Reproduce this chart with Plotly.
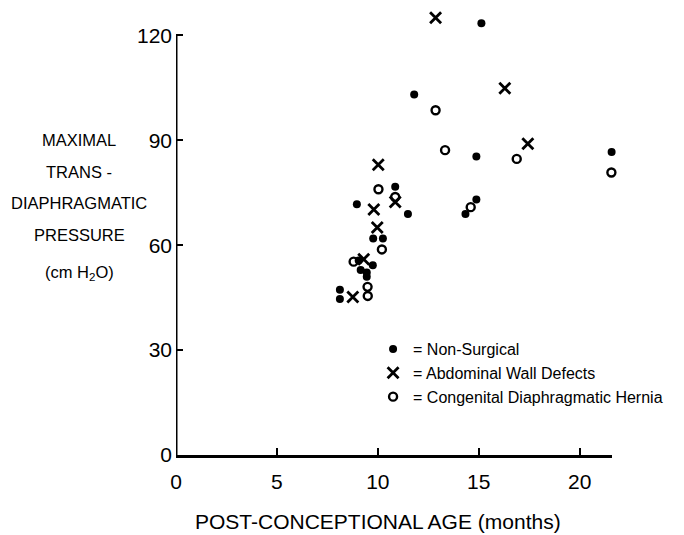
import plotly.graph_objects as go

# Data (post-conceptional age in months, pressure in cm H2O)
nonsurg_x = [15.13, 11.8, 14.88, 21.58, 10.86, 8.96, 11.49, 14.88, 14.34, 9.77, 10.25,
             9.05, 9.75, 9.15, 9.45, 9.45, 8.12, 8.12]
nonsurg_y = [123.5, 103.1, 85.4, 86.7, 76.7, 71.7, 68.9, 73.1, 68.9, 61.9, 61.9,
             55.6, 54.3, 52.9, 52.2, 51.0, 47.3, 44.6]

awd_x = [12.86, 16.29, 17.43, 10.02, 10.86, 9.80, 9.97, 9.3, 8.76]
awd_y = [125.1, 104.9, 89.0, 83.0, 72.4, 70.2, 65.1, 56.0, 45.2]

cdh_x = [12.86, 13.33, 16.88, 21.57, 10.03, 10.86, 14.60, 10.2, 8.8, 9.49, 9.5]
cdh_y = [98.6, 87.2, 84.7, 80.8, 76.0, 73.8, 70.9, 58.8, 55.3, 48.1, 45.5]

x_ticks = [0, 5, 10, 15, 20]
y_ticks = [0, 30, 60, 90, 120]
ytitle_lines = ["MAXIMAL", "TRANS -", "DIAPHRAGMATIC", "PRESSURE", "(cm H<sub>2</sub>O)"]
xtitle = "POST-CONCEPTIONAL AGE (months)"

FONT = "Liberation Sans"
Y_TOP = 127          # axis range top (room for points above the 120 end of the axis line)
PX_PER_Y = 3.5
PLOT_TOP_ABS = 455 - Y_TOP * PX_PER_Y   # absolute page y of plot-area top
PLOT_H = Y_TOP * PX_PER_Y


def py(abs_y):
    return 1 - (abs_y - PLOT_TOP_ABS) / PLOT_H


def px(abs_x):
    return (abs_x - 176) / 436


fig = go.Figure()
fig.add_trace(go.Scatter(
    x=nonsurg_x, y=nonsurg_y, mode="markers", name="= Non-Surgical", cliponaxis=False,
    marker=dict(symbol="circle", size=8, color="black")))
fig.add_trace(go.Scatter(
    x=awd_x, y=awd_y, mode="markers", name="= Abdominal Wall Defects", cliponaxis=False,
    marker=dict(symbol="x-thin-open", size=11, color="black",
                line=dict(width=2.8, color="black"))))
fig.add_trace(go.Scatter(
    x=cdh_x, y=cdh_y, mode="markers", name="= Congenital Diaphragmatic Hernia",
    cliponaxis=False,
    marker=dict(symbol="circle-open", size=8, color="black",
                line=dict(width=2.4, color="black"))))

# vertical axis line ending at the top tick (120)
fig.add_shape(type="line", xref="x", yref="y", x0=0, x1=0, y0=0, y1=max(y_ticks),
              line=dict(color="black", width=3))

# Y-axis title lines
ys_px = [140, 172, 203, 235, 273]
for txt, ypx in zip(ytitle_lines, ys_px):
    fig.add_annotation(text=txt, xref="paper", yref="paper",
                       x=px(79), y=py(ypx),
                       showarrow=False, xanchor="center", yanchor="middle",
                       font=dict(family=FONT, size=16.5, color="black"))

# X-axis title
fig.add_annotation(text=xtitle, xref="paper", yref="paper", x=px(378), y=py(522),
                   showarrow=False, xanchor="center", yanchor="middle",
                   font=dict(family=FONT, size=21, color="black"))

fig.update_layout(
    width=684, height=535,
    margin=dict(l=168, r=80, t=PLOT_TOP_ABS - 8, b=535 - 447),
    paper_bgcolor="white", plot_bgcolor="white",
    showlegend=True,
    legend=dict(x=0.452, y=py(332), xanchor="left", yanchor="top",
                font=dict(family=FONT, size=16, color="black"),
                bgcolor="rgba(0,0,0,0)", tracegroupgap=0, itemwidth=30),
    xaxis=dict(range=[0, 21.6], tickvals=x_ticks, ticktext=[str(v) for v in x_ticks],
               showgrid=False, zeroline=False, showline=True, linecolor="black",
               linewidth=3, ticks="inside", ticklen=7, tickwidth=2, tickcolor="black",
               ticklabelstandoff=6,
               tickfont=dict(family=FONT, size=21, color="black")),
    yaxis=dict(range=[0, Y_TOP], tickvals=y_ticks, ticktext=[str(v) for v in y_ticks],
               showgrid=False, zeroline=False, showline=False,
               ticks="inside", ticklen=7, tickwidth=2, tickcolor="black",
               ticklabelstandoff=3,
               tickfont=dict(family=FONT, size=21, color="black")),
)

fig.write_html("out.html")
